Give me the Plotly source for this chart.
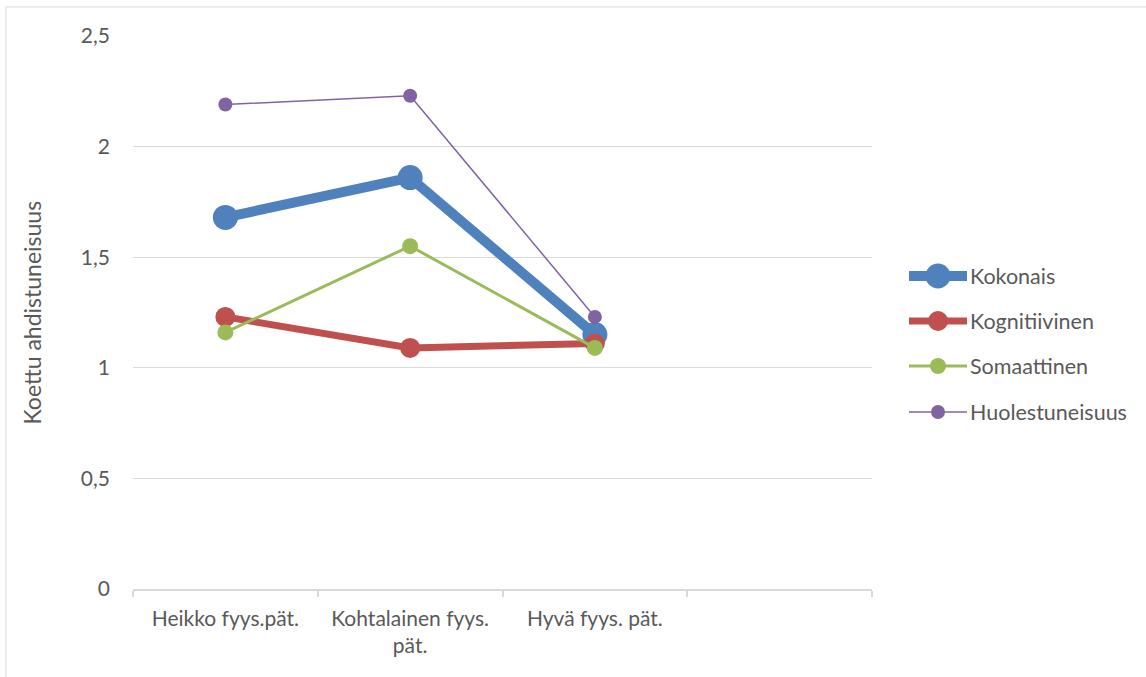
import plotly.graph_objects as go

categories = ["Heikko fyys.pät.", "Kohtalainen fyys.<br>pät.", "Hyvä fyys. pät."]
axis_slots = categories + [" "]
series_names = ["Kokonais", "Kognitiivinen", "Somaattinen", "Huolestuneisuus"]
kokonais = [1.68, 1.86, 1.15]
kognitiivinen = [1.23, 1.09, 1.11]
somaattinen = [1.16, 1.55, 1.09]
huolestuneisuus = [2.19, 2.23, 1.23]
y_ticks = [0, 0.5, 1, 1.5, 2, 2.5]
y_title = "Koettu ahdistuneisuus"

values = [kokonais, kognitiivinen, somaattinen, huolestuneisuus]
colors = ["#4F81BD", "#C0504D", "#9BBB59", "#8064A2"]
line_w = [10, 7, 3, 1.5]
marker_d = [25, 20, 16, 14]

FONT = "Lato"
TXT = "#595959"
W, H = 1146, 677
L, R, T, B = 133, 872, 36, 589

def px_x(px):
    return (px - L) / (R - L)

def px_y(py):
    return (B - py) / (B - T)

fig = go.Figure()
for name, vals, c, lw, md in zip(series_names, values, colors, line_w, marker_d):
    fig.add_trace(go.Scatter(
        x=categories, y=vals, name=name, mode="lines+markers",
        line=dict(color=c, width=lw),
        marker=dict(color=c, size=md),
        showlegend=False, cliponaxis=False,
    ))

shapes = []
annotations = []
# chart area border (top and left visible)
shapes.append(dict(type="rect", xref="paper", yref="paper",
                   x0=px_x(6), x1=px_x(W + 20), y0=px_y(H + 20), y1=px_y(7),
                   line=dict(color="#D9D9D9", width=1), layer="below"))

leg_y = [276, 321, 366, 412]
for name, c, lw, md, py in zip(series_names, colors, line_w, marker_d, leg_y):
    shapes.append(dict(type="line", xref="paper", yref="paper",
                       x0=px_x(909), x1=px_x(967), y0=px_y(py), y1=px_y(py),
                       line=dict(color=c, width=lw)))
    shapes.append(dict(type="circle", xref="paper", yref="paper",
                       xsizemode="pixel", ysizemode="pixel",
                       xanchor=px_x(938), yanchor=px_y(py),
                       x0=-md / 2, x1=md / 2, y0=-md / 2, y1=md / 2,
                       fillcolor=c, line=dict(width=0)))
    annotations.append(dict(text=name, xref="paper", yref="paper",
                            x=px_x(968), y=px_y(py), xanchor="left", yanchor="middle",
                            showarrow=False, font=dict(family=FONT, size=21.5, color=TXT)))

annotations.append(dict(text=y_title, xref="paper", yref="paper",
                        x=px_x(31), y=0.5, textangle=-90, xanchor="center", yanchor="middle",
                        showarrow=False, font=dict(family=FONT, size=23, color=TXT)))

fig.update_layout(
    width=W, height=H,
    margin=dict(l=L, r=W - R, t=T, b=H - B),
    paper_bgcolor="white", plot_bgcolor="white",
    separators=", ",
    font=dict(family=FONT, size=21, color=TXT),
    shapes=shapes, annotations=annotations,
    showlegend=False,
)
fig.update_xaxes(
    type="category", categoryorder="array", categoryarray=axis_slots,
    range=[-0.5, 3.5], showgrid=False, zeroline=False,
    showline=True, linecolor="#D9D9D9", linewidth=1.5,
    ticks="outside", tickson="boundaries", ticklen=6, tickcolor="#D9D9D9", tickwidth=1.5,
    tickfont=dict(family=FONT, size=21, color=TXT), ticklabelstandoff=10,
)
fig.update_yaxes(
    range=[0, 2.5], tickvals=y_ticks, showgrid=True, gridcolor="#D9D9D9", gridwidth=1.2,
    zeroline=False, showline=False, ticks="",
    tickfont=dict(family=FONT, size=21, color=TXT), ticklabelstandoff=22,
)
fig.write_html("out.html")
